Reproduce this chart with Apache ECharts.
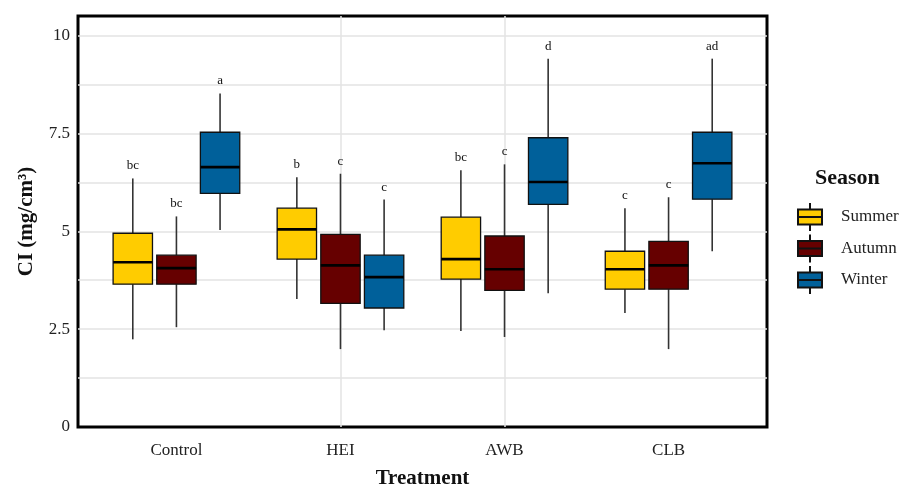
<!DOCTYPE html>
<html>
<head>
<meta charset="utf-8">
<script src="https://cdn.jsdelivr.net/npm/echarts@6/dist/echarts.min.js"></script>
<style>html,body{margin:0;padding:0;background:#fff}#c{width:909px;height:487px}</style>
</head>
<body>
<div id="c"></div>
<script>
const categories = ['Control', 'HEI', 'AWB', 'CLB'];
const seasons = ['Summer', 'Autumn', 'Winter'];
// [min, q1, median, q3, max]
const summerStats = [[2.24, 3.65, 4.21, 4.95, 6.35], [3.27, 4.29, 5.05, 5.59, 6.38], [2.45, 3.78, 4.29, 5.36, 6.56], [2.91, 3.52, 4.03, 4.49, 5.59]];
const autumnStats = [[2.55, 3.65, 4.06, 4.39, 5.38], [1.99, 3.16, 4.13, 4.92, 6.47], [2.30, 3.49, 4.03, 4.88, 6.71], [1.99, 3.52, 4.13, 4.74, 5.87]];
const winterStats = [[5.03, 5.97, 6.64, 7.53, 8.52], [2.47, 3.04, 3.83, 4.39, 5.81], [3.42, 5.69, 6.26, 7.39, 9.41], [4.49, 5.82, 6.74, 7.53, 9.41]];
const summerLetters = ['bc', 'b', 'bc', 'c'];
const autumnLetters = ['bc', 'c', 'c', 'c'];
const winterLetters = ['a', 'c', 'd', 'ad'];
const yTickLabels = [0, 2.5, 5, 7.5, 10];

const statsBySeason = [summerStats, autumnStats, winterStats];
const lettersBySeason = [summerLetters, autumnLetters, winterLetters];
const colors = ['#FFCC00', '#660000', '#00609A'];
const dodge = [-0.266, 0, 0.266];
const boxW = 0.24;
const FONT = '"Liberation Serif", "Times New Roman", serif';

const chart = echarts.init(document.getElementById('c'), null, {renderer: 'canvas'});

function makeRender(si) {
  return function (params, api) {
    const x = api.value(0) + dodge[si];
    const pMin = api.coord([x, api.value(1)]);
    const pQ1 = api.coord([x, api.value(2)]);
    const pMed = api.coord([x, api.value(3)]);
    const pQ3 = api.coord([x, api.value(4)]);
    const pMax = api.coord([x, api.value(5)]);
    const hw = api.size([boxW, 0])[0] / 2;
    const cx = pMed[0];
    return {
      type: 'group',
      children: [
        {type: 'line', shape: {x1: cx, y1: pQ3[1], x2: cx, y2: pMax[1]}, style: {stroke: '#333', lineWidth: 1.6}},
        {type: 'line', shape: {x1: cx, y1: pMin[1], x2: cx, y2: pQ1[1]}, style: {stroke: '#333', lineWidth: 1.6}},
        {type: 'rect', shape: {x: cx - hw, y: pQ3[1], width: hw * 2, height: pQ1[1] - pQ3[1]},
          style: {fill: colors[si], stroke: '#111', lineWidth: 1.3}},
        {type: 'line', shape: {x1: cx - hw, y1: pMed[1], x2: cx + hw, y2: pMed[1]}, style: {stroke: '#000', lineWidth: 2.6}},
        {type: 'text', x: cx, y: pMax[1] - 6,
          style: {text: lettersBySeason[si][params.dataIndex], align: 'center', verticalAlign: 'bottom',
            font: '13px ' + FONT, fill: '#111'}}
      ]
    };
  };
}

const series = seasons.map(function (name, si) {
  return {
    name: name,
    type: 'custom',
    renderItem: makeRender(si),
    itemStyle: {color: colors[si], borderColor: '#111', borderWidth: 1},
    encode: {x: 0, y: [1, 2, 3, 4, 5]},
    data: statsBySeason[si].map(function (s, ci) { return [ci + 1].concat(s); }),
    z: 3
  };
});

const legendIcon = 'path://M0,6.5L24,6.5L24,21.5L0,21.5ZM0,14L24,14M12,0L12,6.5M12,21.5L12,28';

chart.setOption({
  animation: false,
  backgroundColor: '#fff',
  title: {
    text: 'Season', left: 810, top: 162,
    textStyle: {fontFamily: FONT, fontWeight: 'bold', fontSize: 22, color: '#111'}
  },
  legend: {
    orient: 'vertical', left: 797, top: 202, padding: 0,
    itemWidth: 24, itemHeight: 28, itemGap: 1.5,
    icon: legendIcon,
    data: seasons,
    textStyle: {fontFamily: FONT, fontSize: 17, color: '#222', lineHeight: 28, padding: [0, 0, 0, 14]}
  },
  grid: {
    left: 78, right: 142, top: 16, bottom: 60,
    show: true, borderColor: '#000', borderWidth: 3, containLabel: false,
    outerBoundsMode: 'none'
  },
  xAxis: {
    type: 'value', min: 0.4, max: 4.6,
    name: 'Treatment', nameLocation: 'middle', nameGap: 41,
    nameTextStyle: {fontFamily: FONT, fontWeight: 'bold', fontSize: 21, color: '#111'},
    axisLine: {show: false},
    axisTick: {show: false, customValues: [1, 2, 3, 4]},
    axisLabel: {
      customValues: [1, 2, 3, 4],
      formatter: function (v) { return categories[Math.round(v) - 1] || ''; },
      fontFamily: FONT, fontSize: 17, color: '#222', margin: 15
    },
    splitLine: {show: true, showMinLine: false, showMaxLine: false, lineStyle: {color: '#e3e3e3', width: 1.5}}
  },
  yAxis: {
    type: 'value', min: 0, max: 10.5, interval: 1.25,
    name: 'CI (mg/cm³)', nameLocation: 'middle', nameGap: 41,
    nameTextStyle: {fontFamily: FONT, fontWeight: 'bold', fontSize: 21, color: '#111'},
    axisLine: {show: false},
    axisTick: {show: false},
    axisLabel: {
      showMaxLabel: false,
      formatter: function (v) {
        for (let i = 0; i < yTickLabels.length; i++) {
          if (Math.abs(v - yTickLabels[i]) < 1e-6) return String(yTickLabels[i]);
        }
        return '';
      },
      fontFamily: FONT, fontSize: 17, color: '#222', margin: 8
    },
    splitLine: {show: true, showMinLine: false, showMaxLine: false, lineStyle: {color: '#e3e3e3', width: 1.5}}
  },
  series: series
});
</script>
</body>
</html>
